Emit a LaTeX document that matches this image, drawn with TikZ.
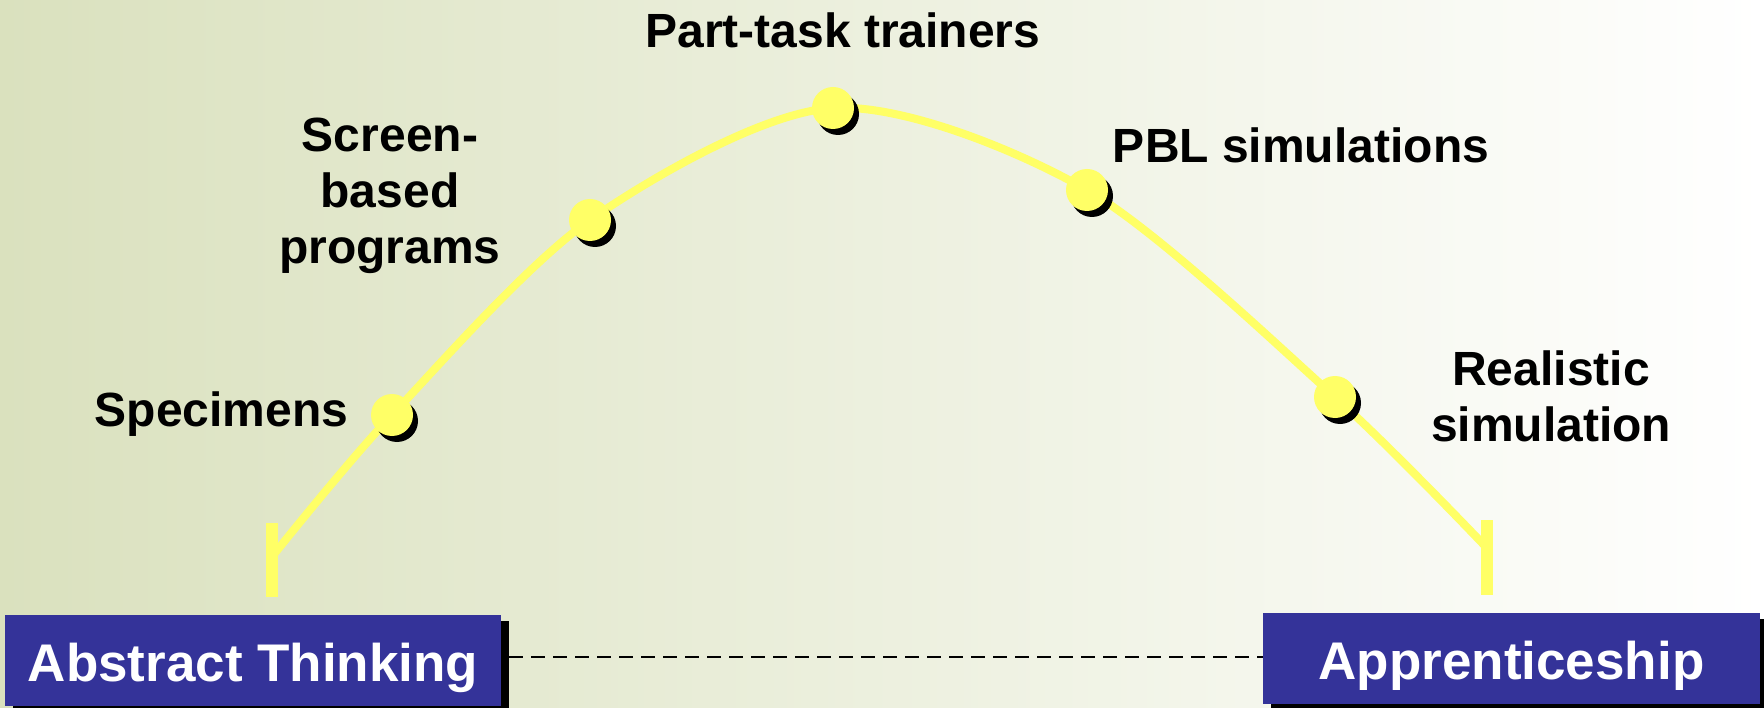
\documentclass[tikz,border=0pt]{standalone}
\usepackage{fontspec}
\setmainfont{Liberation Sans}
\usetikzlibrary{shadows}
\definecolor{bgleft}{RGB}{218,225,190}
\definecolor{curveyellow}{RGB}{255,255,102}
\definecolor{boxblue}{RGB}{52,51,153}
\tikzset{
  curveline/.style={draw=curveyellow, line width=8pt},
  tickline/.style={draw=curveyellow, line width=11.5pt},
  dot/.style={circle, fill=curveyellow, minimum size=42pt, inner sep=0pt,
    general shadow={shadow xshift=5pt, shadow yshift=-6pt, fill=black}},
  endbox/.style={fill=boxblue, text=white, inner sep=0pt, minimum height=91pt,
    text height=42pt, text depth=0pt, font=\fontsize{53}{58}\selectfont\bfseries,
    general shadow={shadow xshift=8pt, shadow yshift=-6pt, fill=black}},
  lbl/.style={anchor=base, align=center, inner sep=0pt, font=\fontsize{48}{56}\selectfont\bfseries},
  dashline/.style={draw=black, line width=2pt, dash pattern=on 14pt off 8pt}
}
\begin{document}
\begin{tikzpicture}[x=1pt, y=-1pt]
\useasboundingbox (0,0) rectangle (1764,708);
\shade[left color=bgleft, right color=white] (0,0) rectangle (1764,708);
% coordinates of the curve
\coordinate (e1) at (275,553);
\coordinate (p1) at (392,415);
\coordinate (p2) at (590,220);
\coordinate (p3) at (833,108);
\coordinate (p4) at (1087,190);
\coordinate (p5) at (1335,397);
\coordinate (e2) at (1485,546);
% ticks
\coordinate (t1a) at (272,523);
\coordinate (t1b) at (272,597);
\coordinate (t2a) at (1487,520);
\coordinate (t2b) at (1487,595);
\coordinate (dl) at (0,657);
\draw[curveline] plot[smooth, tension=0.5] coordinates {(e1) (p1) (p2) (p3) (p4) (p5) (e2)};
\draw[tickline] (t1a) -- (t1b);
\draw[tickline] (t2a) -- (t2b);
\node[dot] (d1) at (p1) {};
\node[dot] (d2) at (p2) {};
\node[dot] (d3) at (p3) {};
\node[dot] (d4) at (p4) {};
\node[dot] (d5) at (p5) {};
% boxes
\node[endbox, minimum width=496pt] (abs) at (253,660.5) {Abstract Thinking};
\node[endbox, minimum width=497pt] (app) at (1511.5,658.5) {Apprenticeship};
\draw[dashline] ([xshift=8pt]abs.east |- dl) -- (app.west |- dl);
% labels
\node[lbl] (lpart) at (843,48) {Part-task trainers};
\node[lbl] (lscreen) at (390,264) {Screen-\\based\\programs};
\node[lbl] (lspec) at (221.5,426) {Specimens};
\node[lbl] (lpbl) at (1301,163) {PBL simulations};
\node[lbl] (lreal) at (1551,441) {Realistic\\simulation};
\end{tikzpicture}
\end{document}
